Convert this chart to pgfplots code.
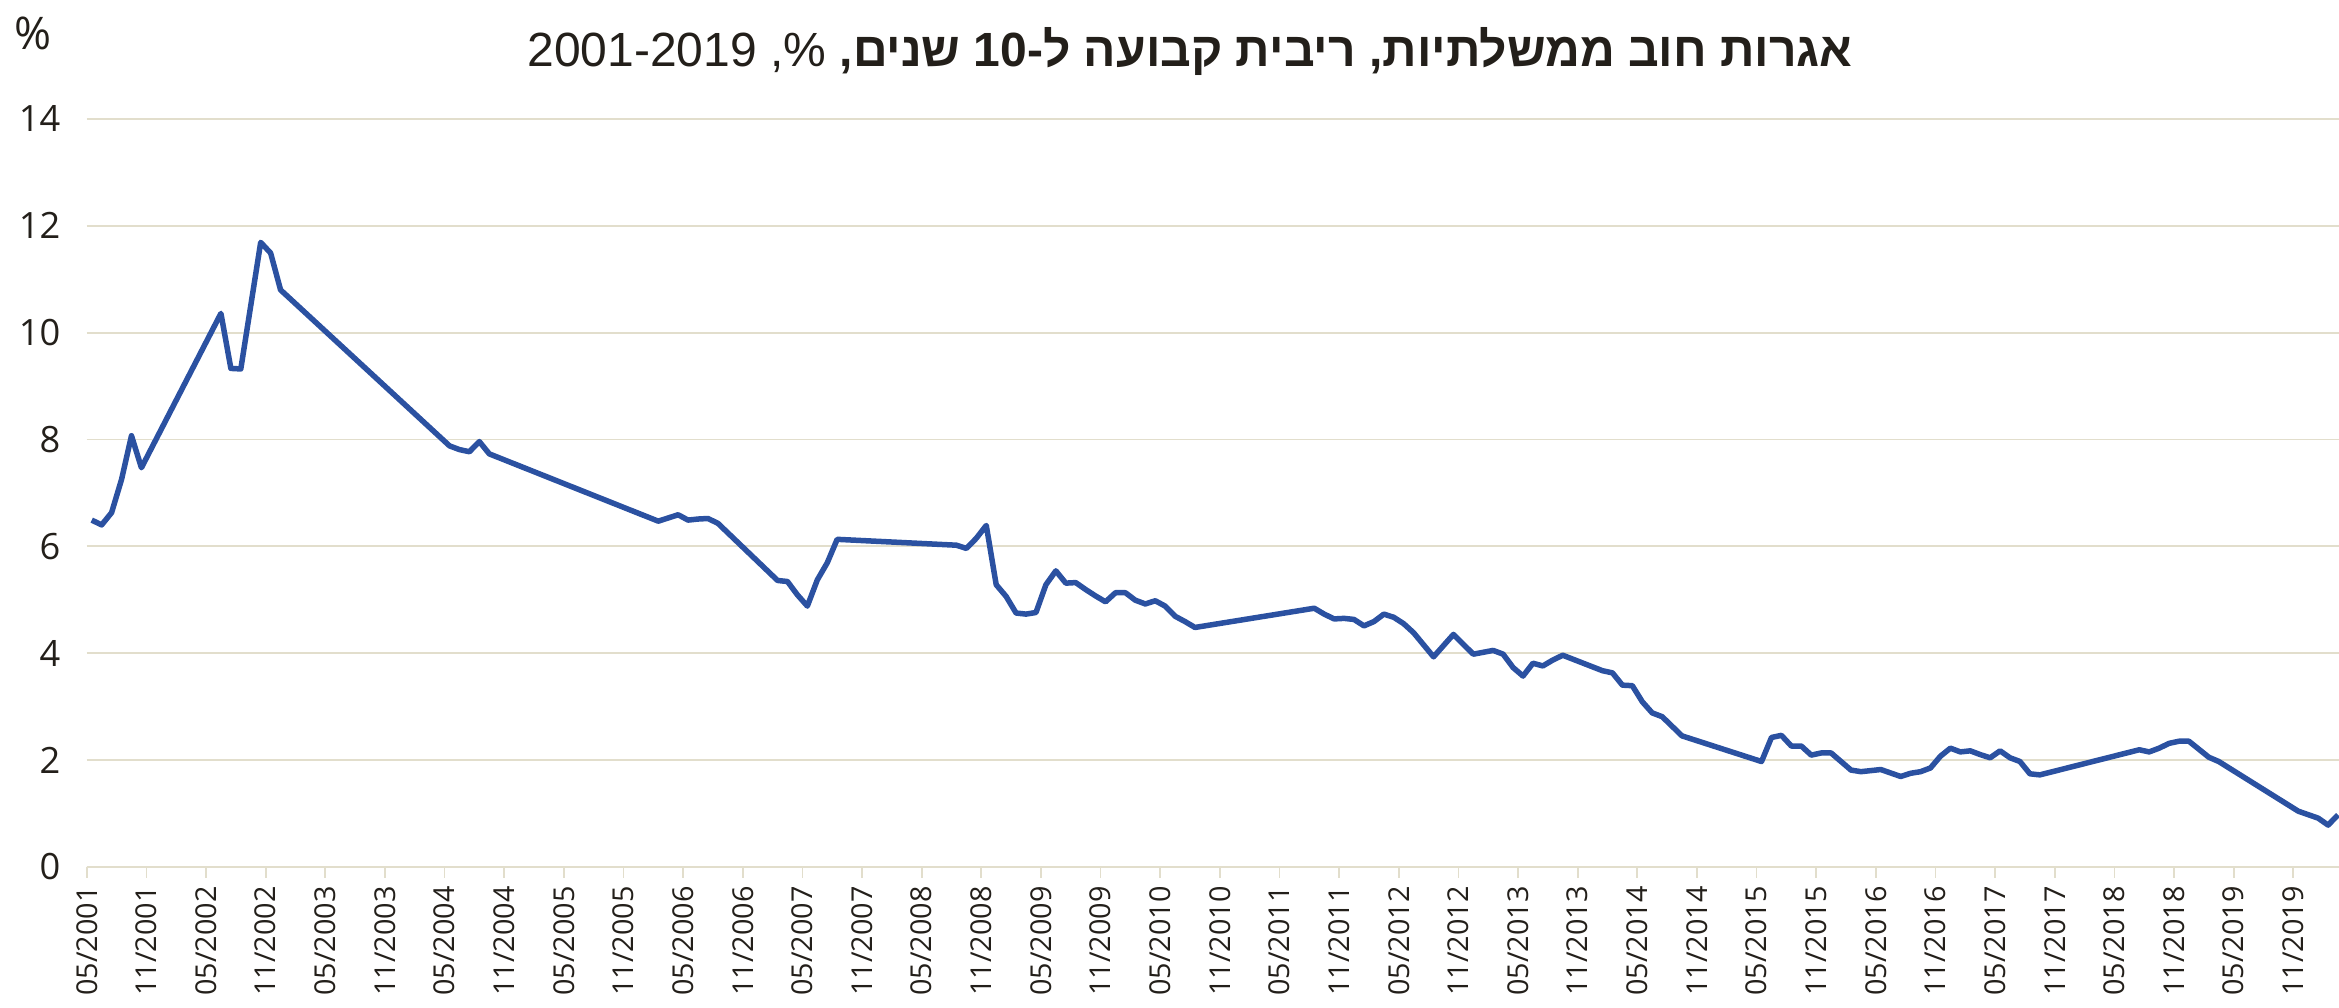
\documentclass[border=0pt]{standalone}
\usepackage{pgfplots}
\pgfplotsset{compat=1.18}
\usepackage{fontspec}
\setmainfont{Open Sans}
\newfontfamily\hebfont[Script=Hebrew]{Liberation Sans}
\TeXXeTstate=1
\definecolor{bondblue}{RGB}{43,81,161}
\definecolor{gridc}{RGB}{226,222,204}
\definecolor{txt}{RGB}{35,31,26}

\begin{document}
\begin{tikzpicture}
\path[use as bounding box] (-34.7pt,-56.5pt) rectangle (900.9pt,346.7pt);
\begin{axis}[
    at={(0,0)}, anchor=south west,
    scale only axis, width=900.9pt, height=299.1pt,
    xmin=0, xmax=226.6, ymin=0, ymax=14,
    xtick={0,6,...,222},
    xticklabels={05/2001,11/2001,05/2002,11/2002,05/2003,11/2003,05/2004,11/2004,
        05/2005,11/2005,05/2006,11/2006,05/2007,11/2007,05/2008,11/2008,
        05/2009,11/2009,05/2010,11/2010,05/2011,11/2011,05/2012,11/2012,
        05/2013,11/2013,05/2014,11/2014,05/2015,11/2015,05/2016,11/2016,
        05/2017,11/2017,05/2018,11/2018,05/2019,11/2019},
    ytick={0,2,...,14},
    ymajorgrids=true,
    grid style={gridc, line width=0.75pt},
    axis x line*=bottom, axis y line*=left,
    x axis line style={gridc, line width=0.9pt, -},
    y axis line style={draw=none},
    xtick align=outside, major tick length=4.4pt,
    xtick style={gridc, line width=0.7pt},
    ytick style={draw=none},
    tick label style={txt},
    xticklabel style={rotate=90, anchor=east, font=\fontsize{11.5}{13}\selectfont},
    yticklabel style={font=\fontsize{14.5}{16}\selectfont, xshift=-7pt},
    /pgf/number format/assume math mode=true,
]

% 10-year fixed-rate government bond yield, month index from 05/2001
\addplot[bondblue, line width=2.2pt, line join=round] coordinates {
    (0.5,6.49)(1.5,6.40)(2.5,6.63)(3.5,7.25)(4.5,8.07)(5.5,7.47)
    (13.5,10.36)(14.5,9.33)(15.5,9.32)(17.5,11.69)(18.5,11.49)(19.5,10.80)
    (36.5,7.88)(37.5,7.81)(38.5,7.77)(39.5,7.96)(40.5,7.73)
    (57.5,6.47)(59.5,6.59)(60.5,6.49)(61.5,6.51)(62.5,6.52)(63.5,6.43)
    (69.5,5.36)(70.5,5.34)(71.5,5.09)(72.5,4.88)(73.5,5.37)(74.5,5.69)(75.5,6.13)
    (87.5,6.02)(88.5,5.96)(89.5,6.15)(90.5,6.39)(91.5,5.28)(92.5,5.06)(93.5,4.75)
    (94.5,4.73)(95.5,4.76)(96.5,5.28)(97.5,5.54)(98.5,5.31)(99.5,5.32)(100.5,5.19)
    (101.5,5.07)(102.5,4.96)(103.5,5.13)(104.5,5.13)(105.5,4.99)(106.5,4.92)
    (107.5,4.98)(108.5,4.88)(109.5,4.69)(110.5,4.59)(111.5,4.48)
    (123.5,4.84)(124.5,4.73)(125.5,4.64)(126.5,4.65)(127.5,4.63)(128.5,4.51)
    (129.5,4.59)(130.5,4.73)(131.5,4.67)(132.5,4.55)(133.5,4.38)(135.5,3.93)
    (137.5,4.35)(139.5,3.98)(141.5,4.05)(142.5,3.98)(143.5,3.73)(144.5,3.57)
    (145.5,3.81)(146.5,3.76)(147.5,3.87)(148.5,3.96)(152.5,3.67)(153.5,3.63)
    (154.5,3.40)(155.5,3.39)(156.5,3.09)(157.5,2.88)(158.5,2.81)(160.5,2.45)
    (168.5,1.97)(169.5,2.42)(170.5,2.46)(171.5,2.26)(172.5,2.26)(173.5,2.09)
    (174.5,2.13)(175.5,2.13)(177.5,1.81)(178.5,1.78)(180.5,1.82)(182.5,1.69)
    (183.5,1.75)(184.5,1.78)(185.5,1.85)(186.5,2.07)(187.5,2.22)(188.5,2.15)
    (189.5,2.17)(190.5,2.10)(191.5,2.04)(192.5,2.17)(193.5,2.04)(194.5,1.97)
    (195.5,1.74)(196.5,1.72)(206.5,2.19)(207.5,2.15)(208.5,2.22)(209.5,2.31)
    (210.5,2.35)(211.5,2.35)(213.5,2.05)(214.5,1.97)
    (222.5,1.04)(224.5,0.91)(225.5,0.78)(226.5,0.97)
};
\end{axis}

\node[txt, font=\hebfont\fontsize{19.2}{22}\selectfont] at (441.3pt,325.9pt)
    {\beginR{\bfseries אגרות חוב ממשלתיות, ריבית קבועה ל-\beginL10\endL{} שנים,} \%, \beginL2001-2019\endL\endR};
\node[txt, font=\fontsize{18}{20}\selectfont] at (-21.5pt,333.5pt) {\%};
\end{tikzpicture}
\end{document}
